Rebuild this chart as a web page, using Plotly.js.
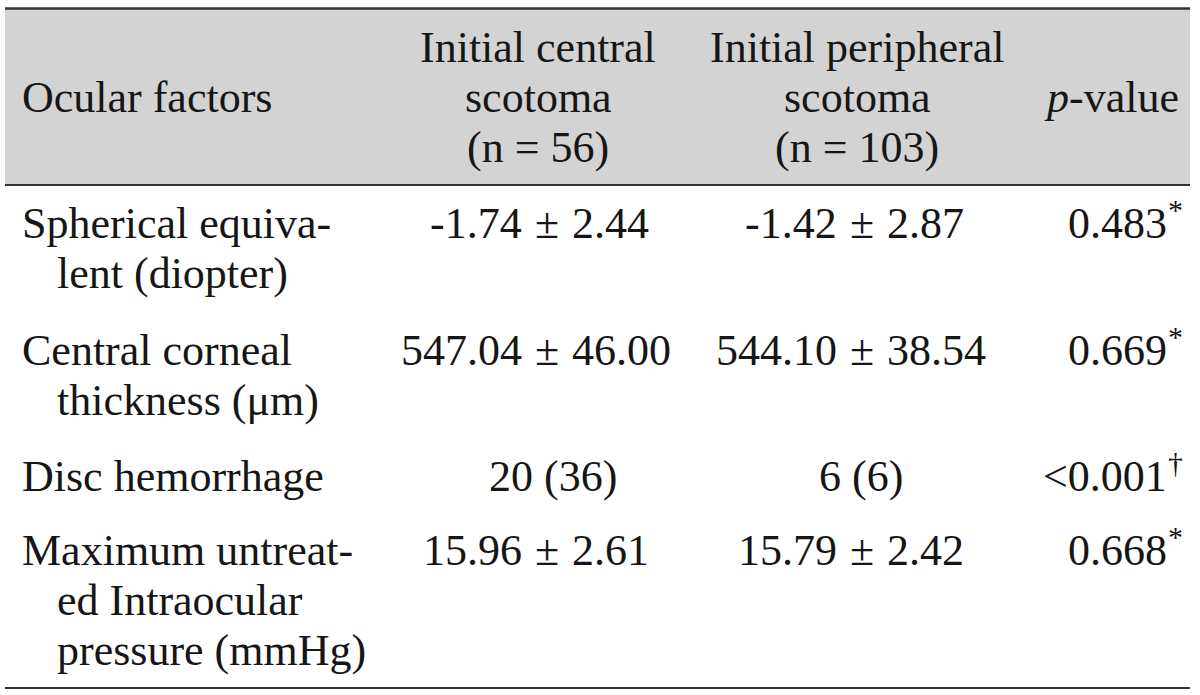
<!DOCTYPE html>
<html>
<head>
<meta charset="utf-8">
<script src="https://cdn.plot.ly/plotly-3.0.1.min.js"></script>
<style>html,body{margin:0;padding:0;background:#fff;}#chart{width:1200px;height:695px;}</style>
</head>
<body>
<div id="chart"></div>
<script>
// ---- data ----
var headerFactor = "Ocular factors";
var headerCentral = ["Initial central", "scotoma", "(n = 56)"];
var headerPeripheral = ["Initial peripheral", "scotoma", "(n = 103)"];
var headerP = "<i>p</i>-value";
var factorLines = [
  ["Spherical equiva-", "lent (diopter)"],
  ["Central corneal", "thickness (\u03bcm)"],
  ["Disc hemorrhage"],
  ["Maximum untreat-", "ed Intraocular", "pressure (mmHg)"]
];
var centralVals = ["-1.74 \u00b1 2.44", "547.04 \u00b1 46.00", "20 (36)", "15.96 \u00b1 2.61"];
var peripheralVals = ["-1.42 \u00b1 2.87", "544.10 \u00b1 38.54", "6 (6)", "15.79 \u00b1 2.42"];
var pValues = ["0.483", "0.669", "<0.001", "0.668"];
var pMarks = ["*", "*", "\u2020", "*"];

// ---- layout geometry ----
var W = 1200, H = 695;
var fam = "Liberation Serif, Times New Roman, serif";
var font = {family: fam, size: 44, color: "#161616"};
var markFont = {family: fam, size: 30, color: "#161616"};
var xLeft = 20, xIndent = 55;
var pmX = [547, 862];          // x of the "±" sign in each value column
var plainX = [553, 861];       // centre for values without "±"
var hdrX = [538, 857];
var xPval = 1167, xHdrP = 1181;
var lineH = 50;
var headerLineY = [47, 97, 147];
var headerMidY = 97;
var rowTopY = [223, 350, 476, 550];

var ann = [];
function add(x, y, text, anchor, f, pad) {
  ann.push({x: x, y: y, xref: "x", yref: "y", text: text, showarrow: false,
            xanchor: anchor, yanchor: "middle", font: f || font,
            borderpad: pad === undefined ? 1 : pad, borderwidth: pad === undefined ? 1 : 0});
}
function addValue(col, y, text) {
  var parts = text.split(" \u00b1 ");
  if (parts.length === 2) {
    add(pmX[col] - 23, y, parts[0], "right");
    add(pmX[col], y, "\u00b1", "center");
    add(pmX[col] + 23, y, parts[1], "left");
  } else {
    add(plainX[col], y, text, "center");
  }
}
add(xLeft, headerMidY, headerFactor, "left");
headerCentral.forEach(function (t, i) { add(hdrX[0], headerLineY[i], t, "center"); });
headerPeripheral.forEach(function (t, i) { add(hdrX[1], headerLineY[i], t, "center"); });
add(xHdrP, headerMidY, headerP, "right");

factorLines.forEach(function (lines, r) {
  lines.forEach(function (t, j) {
    add(j === 0 ? xLeft : xIndent, rowTopY[r] + j * lineH, t, "left");
  });
  addValue(0, rowTopY[r], centralVals[r]);
  addValue(1, rowTopY[r], peripheralVals[r]);
  add(xPval, rowTopY[r], pValues[r].replace("<", "&lt;"), "right", font, 0);
  add(xPval + 1, rowTopY[r] - 14, pMarks[r], "left", markFont, 0);
});

var shapes = [
  {type: "rect", xref: "x", yref: "y", x0: 5, x1: 1190, y0: 9, y1: 185, fillcolor: "#d3d3d3", line: {width: 0}, layer: "below"},
  {type: "line", xref: "x", yref: "y", x0: 5, x1: 1190, y0: 8.5, y1: 8.5, line: {color: "#333", width: 2.5}},
  {type: "line", xref: "x", yref: "y", x0: 5, x1: 1190, y0: 185, y1: 185, line: {color: "#333", width: 2}},
  {type: "line", xref: "x", yref: "y", x0: 5, x1: 1190, y0: 688, y1: 688, line: {color: "#333", width: 2}}
];

var layout = {
  width: W, height: H,
  margin: {l: 0, r: 0, t: 0, b: 0},
  paper_bgcolor: "#fff", plot_bgcolor: "#fff",
  xaxis: {range: [0, W], visible: false, fixedrange: true},
  yaxis: {range: [H, 0], visible: false, fixedrange: true},
  showlegend: false,
  annotations: ann,
  shapes: shapes
};
Plotly.newPlot("chart", [{x: [], y: [], type: "scatter"}], layout, {displayModeBar: false, staticPlot: true});
</script>
</body>
</html>
